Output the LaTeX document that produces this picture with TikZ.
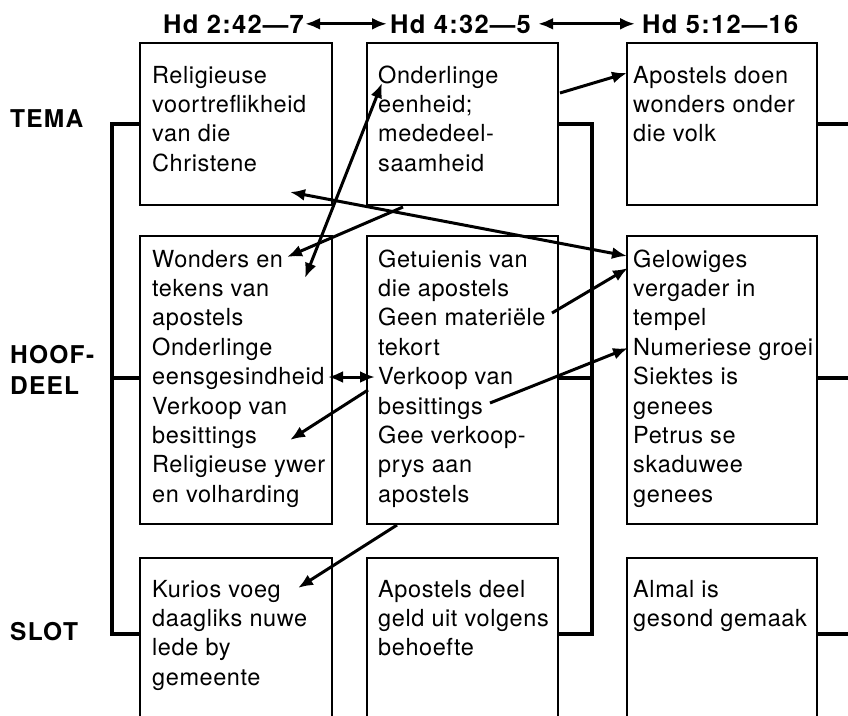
\documentclass[tikz,border=0pt]{standalone}
\usepackage{fontspec}
\setmainfont{TeX Gyre Heros}
\newfontfamily\bodyf[LetterSpace=2.5]{TeX Gyre Heros}
\newfontfamily\headf[LetterSpace=5]{TeX Gyre Heros}
\usetikzlibrary{arrows.meta}
\tikzset{
  box/.style={draw, line width=2.4pt, inner sep=0pt, outer sep=0pt},
  bracket/.style={line width=4.5pt, line join=miter},
  txt/.style={anchor=base west, inner sep=0pt, align=left, font=\bodyf\fontsize{23.5pt}{29.4pt}\selectfont},
  lab/.style={anchor=base west, inner sep=0pt, align=left, font=\headf\bfseries\fontsize{24.5pt}{31pt}\selectfont},
  hd/.style={anchor=base west, inner sep=0pt, font=\headf\bfseries\fontsize{25.5pt}{30pt}\selectfont},
  sar/.style={line width=3pt, -{Latex[length=15pt,width=12pt]}},
  dar/.style={line width=3pt, {Latex[length=15pt,width=12pt]}-{Latex[length=15pt,width=12pt]}}
}
\begin{document}
\begin{tikzpicture}[x=1pt,y=-1pt]
\useasboundingbox (0,0) rectangle (848,715);
\clip (0,0) rectangle (848,715);
% boxes
\node[box, minimum width=192pt, minimum height=162pt] (b11) at (236,124) {};
\node[box, minimum width=191pt, minimum height=162pt] (b12) at (462.5,124) {};
\node[box, minimum width=190pt, minimum height=162pt] (b13) at (722,124) {};
\node[box, minimum width=192pt, minimum height=288pt] (b21) at (236,380) {};
\node[box, minimum width=191pt, minimum height=288pt] (b22) at (462.5,380) {};
\node[box, minimum width=190pt, minimum height=288pt] (b23) at (722,380) {};
\node[box, minimum width=192pt, minimum height=222pt] (b31) at (236,669) {};
\node[box, minimum width=191pt, minimum height=222pt] (b32) at (462.5,669) {};
\node[box, minimum width=190pt, minimum height=222pt] (b33) at (722,669) {};
% brackets
\draw[bracket] (b11.west) -- (112,124) -- (112,634) -- (b31.west |- 0,634);
\draw[bracket] (112,378) -- (b21.west |- 0,378);
\draw[bracket] (b12.east) -- (592,124) -- (592,634) -- (b32.east |- 0,634);
\draw[bracket] (592,378) -- (b22.east |- 0,378);
\draw[bracket] (b13.east) -- (852,124);
\draw[bracket] (b23.east |- 0,378) -- (852,378);
\draw[bracket] (b33.east |- 0,634) -- (852,634);
% side labels (anchor = baseline of last line)
\node[lab] (tema) at (10,127) {TEMA};
\node[lab] (hoof) at (10,394) {HOOF-\\DEEL};
\node[lab] (slot) at (10,640) {SLOT};
% headers
\node[hd] (h1) at (163,33) {Hd 2:42—7};
\node[hd] (h2) at (390,33) {Hd 4:32—5};
\node[hd] (h3) at (642,33) {Hd 5:12—16};
\draw[dar] ([xshift=1pt]h1.east) -- ([xshift=-3pt]h2.west);
\draw[dar] ([xshift=7pt]h2.east) -- ([xshift=-7pt]h3.west);
% texts (anchor = baseline of last line)
\node[txt] (t11) at (152,171.2) {Religieuse\\voortreflikheid\\van die\\Christene};
\node[txt] (t12) at (378,171.2) {Onderlinge\\eenheid;\\mededeel-\\saamheid};
\node[txt] (t13) at (633,141.8) {Apostels doen\\wonders onder\\die volk};
\node[txt] (t21) at (152,502.2) {Wonders en\\tekens van\\apostels\\Onderlinge\\eensgesindheid\\Verkoop van\\besittings\\Religieuse ywer\\en volharding};
\node[txt] (t22) at (378,502.2) {Getuienis van\\die apostels\\Geen materiële\\tekort\\Verkoop van\\besittings\\Gee verkoop-\\prys aan\\apostels};
\node[txt] (t23) at (633,502.2) {Gelowiges\\vergader in\\tempel\\Numeriese groei\\Siektes is\\genees\\Petrus se\\skaduwee\\genees};
\node[txt] (t31) at (152,685.2) {Kurios voeg\\daagliks nuwe\\lede by\\gemeente};
\node[txt] (t32) at (378,655.8) {Apostels deel\\geld uit volgens\\behoefte};
\node[txt] (t33) at (633,626.4) {Almal is\\gesond gemaak};
% arrow end points
\coordinate (a1s) at (382,83);  \coordinate (a1e) at (305,278);
\coordinate (a2s) at (403,207); \coordinate (a2e) at (287,257);
\coordinate (a3s) at (290,192); \coordinate (a3e) at (627,256);
\coordinate (a4s) at (560,93);  \coordinate (a4e) at (627,73);
\coordinate (a5s) at (552,313); \coordinate (a5e) at (628,268);
\coordinate (a6s) at (490,403); \coordinate (a6e) at (628,348);
\coordinate (a7s) at (328,377); \coordinate (a7e) at (375,377);
\coordinate (a8s) at (368,390); \coordinate (a8e) at (290,440);
\coordinate (a9s) at (397,525); \coordinate (a9e) at (298,588);
\draw[dar] (a1s) -- (a1e);
\draw[sar] (a2s) -- (a2e);
\draw[dar] (a3s) -- (a3e);
\draw[sar] (a4s) -- (a4e);
\draw[sar] (a5s) -- (a5e);
\draw[sar] (a6s) -- (a6e);
\draw[dar] (a7s) -- (a7e);
\draw[sar] (a8s) -- (a8e);
\draw[sar] (a9s) -- (a9e);
\end{tikzpicture}
\end{document}
